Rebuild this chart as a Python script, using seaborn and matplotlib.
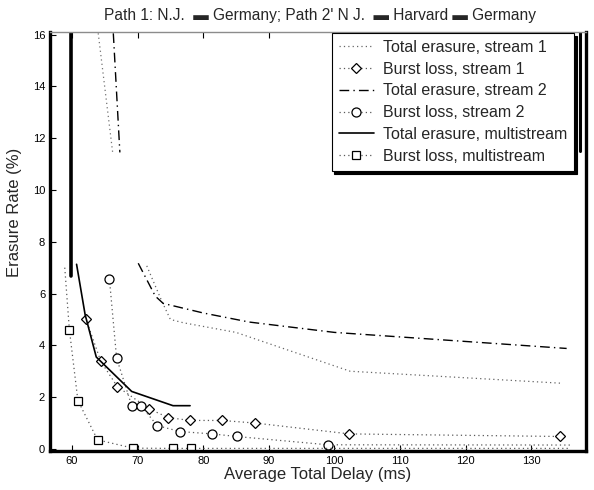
import matplotlib
matplotlib.use("Agg")
import matplotlib.pyplot as plt
import seaborn as sns
import pandas as pd

sns.set_style("ticks")
plt.rcParams["font.family"] = ["Liberation Sans", "DejaVu Sans"]

# total erasure, stream 1 (dotted) - lower part and the piece near the top
te1_delay = [71.4, 73.7, 75.0, 77.0, 85.0, 102.4, 134.4]
te1_rate = [7.07, 5.70, 5.00, 4.87, 4.50, 3.00, 2.54]
te1_top_delay = [64.0, 66.2]
te1_top_rate = [16.05, 11.45]

# burst loss, stream 1 (diamonds)
bl1_delay = [62.1, 64.4, 66.9, 71.8, 74.7, 78.0, 82.8, 87.9, 102.3, 134.4]
bl1_rate = [5.03, 3.38, 2.41, 1.54, 1.21, 1.10, 1.10, 1.00, 0.58, 0.48]

# total erasure, stream 2 (dash-dot)
te2_delay = [70.1, 72.7, 73.9, 80.0, 87.0, 100.0, 135.4]
te2_rate = [7.17, 5.90, 5.62, 5.25, 4.90, 4.50, 3.88]
te2_top_delay = [66.3, 67.3]
te2_top_rate = [16.05, 11.45]

# burst loss, stream 2 (circles); last point only carries the line
bl2_delay = [65.7, 66.8, 69.1, 70.5, 73.0, 76.5, 81.4, 85.1, 99.0, 136.0]
bl2_rate = [6.58, 3.51, 1.67, 1.67, 0.90, 0.67, 0.58, 0.48, 0.16, 0.15]

# total erasure, multistream (solid)
tem_delay = [60.7, 62.0, 63.7, 69.1, 75.4, 78.0]
tem_rate = [7.13, 5.19, 3.55, 2.22, 1.67, 1.67]
tem_top_delay = [59.9, 59.9]
tem_top_rate = [16.1, 6.67]

# burst loss, multistream (squares); first and last points only carry the line
blm_delay = [58.9, 59.6, 60.9, 63.9, 69.3, 75.4, 78.1, 136.0]
blm_rate = [7.0, 4.61, 1.87, 0.35, 0.03, 0.02, 0.02, 0.02]

fig = plt.figure(figsize=(5.94, 4.90), dpi=100)
ax = fig.add_axes([50 / 594, 1 - 451 / 490, 536 / 594, 419 / 490])

dot = (0, (1, 2.5))
dashdot = (0, (7, 3, 1, 3))
common = dict(ax=ax, estimator=None, sort=False)
hollow = dict(markerfacecolor="white", markeredgecolor="black", markeredgewidth=0.9)

def seg(x, y, **kw):
    df = pd.DataFrame({"x": x, "y": y})
    sns.lineplot(data=df, x="x", y="y", **common, **kw)

seg(te1_delay, te1_rate, color="0.4", lw=0.9, linestyle=dot, label="Total erasure, stream 1")
seg(bl1_delay, bl1_rate, color="0.35", lw=0.9, linestyle=dot, marker="D", ms=5.5,
    label="Burst loss, stream 1", **hollow)
seg(te2_delay, te2_rate, color="black", lw=1.0, linestyle=dashdot,
    label="Total erasure, stream 2")
seg(bl2_delay, bl2_rate, color="0.35", lw=0.9, linestyle=dot, marker="o", ms=6.5,
    markevery=list(range(len(bl2_delay) - 1)), label="Burst loss, stream 2", **hollow)
seg(tem_delay, tem_rate, color="black", lw=1.2, linestyle="-",
    label="Total erasure, multistream")
seg(blm_delay, blm_rate, color="0.35", lw=0.9, linestyle=dot, marker="s", ms=5.5,
    markevery=list(range(1, len(blm_delay) - 1)), label="Burst loss, multistream", **hollow)

# pieces of the curves near the top of the scan
seg(te1_top_delay, te1_top_rate, color="0.45", lw=0.9, linestyle=dot)
seg(te2_top_delay, te2_top_rate, color="black", lw=1.0, linestyle=dashdot)
seg(tem_top_delay, tem_top_rate, color="black", lw=2.6, linestyle="-")

ax.set_xlim(56.65, 138.35)
ax.set_ylim(-0.08, 16.1)
ax.set_xticks([60, 70, 80, 90, 100, 110, 120, 130])
ax.set_yticks([0, 2, 4, 6, 8, 10, 12, 14, 16])
ax.tick_params(direction="in", length=4, width=0.8, labelsize=8, top=True,
               right=False, colors="black")

for side in ["left", "bottom", "right"]:
    ax.spines[side].set_linewidth(2.4)
    ax.spines[side].set_color("black")
ax.spines["top"].set_linewidth(1.0)
ax.spines["top"].set_color("0.55")
ax.plot([137.4, 137.4], [11.5, 16.1], color="black", lw=2.2)

ax.set_xlabel("Average Total Delay (ms)", fontsize=12, labelpad=1)
ax.set_ylabel("Erasure Rate (%)", fontsize=12)
ax.yaxis.set_label_coords(-0.052, 0.57)
fig.text(0.539, 0.969, "Path 1: N.J.  \u25ac Germany; Path 2' N J.  \u25ac Harvard \u25ac Germany",
         ha="center", va="center", fontsize=11.2)

leg = ax.legend(loc="upper right", bbox_to_anchor=(0.978, 0.998), borderaxespad=0,
                fontsize=11.5, frameon=True, fancybox=False, edgecolor="black",
                framealpha=1, labelspacing=0.42, handlelength=2.2, handletextpad=0.55,
                borderpad=0.45,
                shadow={"color": "black", "alpha": 1.0, "ox": 2, "oy": -2})
leg.get_frame().set_linewidth(0.8)

fig.savefig("out.png", dpi=100)
